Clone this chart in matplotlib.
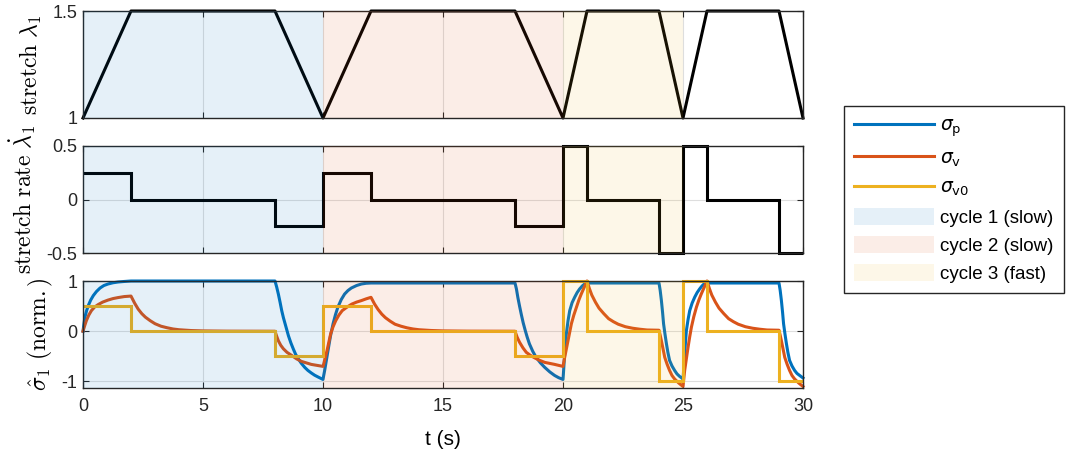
import numpy as np
import matplotlib
matplotlib.use("Agg")
import matplotlib.pyplot as plt
from matplotlib.patches import Patch
from matplotlib.lines import Line2D
from matplotlib.font_manager import FontProperties

plt.rcParams['font.family'] = ['Liberation Sans', 'DejaVu Sans']
plt.rcParams['axes.unicode_minus'] = False

# ── data ──────────────────────────────────────────────────────────────────────
t_stretch = [0, 2, 8, 10, 12, 18, 20, 21, 24, 25, 26, 29, 30]
stretch = [1, 1.5, 1.5, 1, 1.5, 1.5, 1, 1.5, 1.5, 1, 1.5, 1.5, 1]

t_edges = [0, 2, 8, 10, 12, 18, 20, 21, 24, 25, 26, 29, 30]
rate = [0.25, 0, -0.25, 0.25, 0, -0.25, 0.5, 0, -0.5, 0.5, 0, -0.5]
sig_v0 = [0.5, 0, -0.5, 0.5, 0, -0.5, 1, 0, -1, 1, 0, -1]

t_p = [0, 0.04, 0.08, 0.15, 0.22, 0.32, 0.43, 0.56, 0.71, 0.87, 1.04, 1.25, 1.46, 1.7, 2.0, 8.0,
       8.07, 8.14, 8.21, 8.28, 8.35, 8.42, 8.49, 8.56, 8.66, 8.76, 8.86, 8.97, 9.1, 9.24, 9.37,
       9.51, 9.65, 9.79, 10.0,
       10.03, 10.07, 10.14, 10.21, 10.31, 10.42, 10.52, 10.62, 10.76, 10.9, 11.04, 11.18, 11.4,
       11.6, 11.8, 12.0, 18.0,
       18.06, 18.12, 18.19, 18.26, 18.34, 18.43, 18.51, 18.6, 18.74, 18.88, 19.06, 19.24, 19.45,
       19.65, 19.82, 20.0,
       20.015, 20.03, 20.05, 20.07, 20.1, 20.14, 20.21, 20.28, 20.38, 20.49, 20.59, 20.69, 20.8,
       20.9, 21.0, 24.0,
       24.05, 24.1, 24.15, 24.19, 24.25, 24.31, 24.37, 24.44, 24.54, 24.65, 24.75, 24.86, 25.0,
       25.015, 25.03, 25.05, 25.07, 25.1, 25.14, 25.21, 25.28, 25.38, 25.49, 25.59, 25.69, 25.77,
       25.85, 26.0, 29.0,
       29.05, 29.1, 29.15, 29.19, 29.25, 29.31, 29.37, 29.44, 29.54, 29.65, 29.75, 29.86, 30.0]
sig_p = [0, 0.15, 0.28, 0.41, 0.51, 0.62, 0.71, 0.79, 0.86, 0.91, 0.94, 0.965, 0.98, 0.99, 1.0, 1.0,
         0.88, 0.74, 0.58, 0.41, 0.27, 0.15, 0.03, -0.09, -0.23, -0.35, -0.46, -0.55, -0.64, -0.72, -0.78,
         -0.83, -0.875, -0.91, -0.96,
         -0.88, -0.78, -0.58, -0.38, -0.10, 0.15, 0.33, 0.48, 0.63, 0.74, 0.81, 0.86, 0.91,
         0.94, 0.955, 0.96, 0.96,
         0.84, 0.67, 0.50, 0.34, 0.17, 0.01, -0.12, -0.25, -0.40, -0.52, -0.63, -0.72, -0.81,
         -0.88, -0.925, -0.96,
         -0.86, -0.75, -0.60, -0.45, -0.26, -0.05, 0.21, 0.41, 0.57, 0.68, 0.77, 0.84, 0.90,
         0.94, 0.96, 0.96,
         0.81, 0.61, 0.37, 0.15, -0.06, -0.25, -0.42, -0.58, -0.69, -0.78, -0.85, -0.90, -0.95,
         -0.86, -0.75, -0.60, -0.45, -0.24, 0.01, 0.23, 0.41, 0.56, 0.68, 0.77, 0.84, 0.89,
         0.93, 0.96, 0.96,
         0.81, 0.61, 0.37, 0.15, -0.06, -0.25, -0.42, -0.58, -0.69, -0.78, -0.84, -0.88, -0.93]

t_v = [0, 0.07, 0.14, 0.24, 0.35, 0.48, 0.63, 0.82, 1.04, 1.25, 1.46, 1.72, 2.0,
       2.15, 2.3, 2.45, 2.6, 2.8, 3.0, 3.25, 3.5, 3.75, 4.0, 4.5, 5.0, 6.0, 8.0,
       8.07, 8.14, 8.24, 8.35, 8.5, 8.69, 8.9, 9.1, 9.3, 9.51, 9.75, 10.0,
       10.04, 10.08, 10.17, 10.25, 10.32, 10.42, 10.53, 10.66, 10.8, 11.0, 11.2, 11.4, 11.6, 11.8, 12.0,
       12.15, 12.3, 12.45, 12.6, 12.8, 13.0, 13.25, 13.5, 13.75, 14.0, 14.5, 15.0, 16.0, 18.0,
       18.09, 18.19, 18.33, 18.47, 18.64, 18.82, 19.03, 19.24, 19.45, 19.65, 19.82, 20.0,
       20.03, 20.07, 20.14, 20.21, 20.28, 20.35, 20.45, 20.56, 20.66, 20.76, 20.88, 21.0,
       21.1, 21.2, 21.35, 21.5, 21.7, 21.9, 22.1, 22.3, 22.6, 22.9, 23.2, 23.5, 24.0,
       24.05, 24.1, 24.17, 24.24, 24.34, 24.44, 24.54, 24.65, 24.82, 25.0,
       25.03, 25.07, 25.14, 25.21, 25.28, 25.35, 25.45, 25.56, 25.66, 25.76, 25.88, 26.0,
       26.1, 26.2, 26.35, 26.5, 26.7, 26.9, 27.1, 27.3, 27.6, 27.9, 28.2, 28.5, 29.0,
       29.05, 29.1, 29.17, 29.24, 29.34, 29.44, 29.54, 29.65, 29.82, 30.0]
sig_v = [0, 0.11, 0.21, 0.32, 0.41, 0.48, 0.53, 0.58, 0.62, 0.65, 0.67, 0.69, 0.70,
         0.56, 0.44, 0.35, 0.28, 0.21, 0.15, 0.10, 0.07, 0.045, 0.03, 0.014, 0.007, 0.002, 0,
         -0.10, -0.19, -0.28, -0.35, -0.42, -0.48, -0.55, -0.60, -0.63, -0.66, -0.68, -0.70,
         -0.63, -0.55, -0.38, -0.20, -0.05, 0.09, 0.21, 0.32, 0.41, 0.48, 0.54, 0.58, 0.61, 0.645, 0.675,
         0.54, 0.43, 0.34, 0.27, 0.20, 0.14, 0.10, 0.068, 0.045, 0.03, 0.015, 0.007, 0.002, 0,
         -0.12, -0.22, -0.33, -0.42, -0.48, -0.53, -0.58, -0.62, -0.64, -0.66, -0.68, -0.70,
         -0.62, -0.52, -0.35, -0.19, -0.02, 0.15, 0.32, 0.48, 0.62, 0.74, 0.87, 1.0,
         0.85, 0.72, 0.58, 0.46, 0.35, 0.25, 0.19, 0.14, 0.09, 0.06, 0.04, 0.025, 0.02,
         -0.08, -0.19, -0.36, -0.52, -0.66, -0.78, -0.88, -0.95, -1.03, -1.1,
         -0.96, -0.78, -0.55, -0.32, -0.11, 0.08, 0.29, 0.48, 0.62, 0.74, 0.87, 1.0,
         0.85, 0.72, 0.58, 0.46, 0.35, 0.25, 0.19, 0.14, 0.09, 0.06, 0.04, 0.025, 0.02,
         -0.08, -0.19, -0.36, -0.52, -0.66, -0.78, -0.88, -0.95, -1.03, -1.1]

cycles = [(0, 10), (10, 20), (20, 25)]
cycle_labels = ['cycle 1 (slow)', 'cycle 2 (slow)', 'cycle 3 (fast)']

C_BLUE = '#0072BD'
C_ORANGE = '#D95319'
C_YELLOW = '#EDB120'
cycle_colors = [C_BLUE, C_ORANGE, C_YELLOW]
AX_COL = '#262626'
LW = 2.2

# ── figure ────────────────────────────────────────────────────────────────────
fig = plt.figure(figsize=(10.66, 4.54), dpi=100)
W, H = 1066, 454
left, right = 83 / W, 803 / W
ax_h = 107 / H
axes = [fig.add_axes([left, 1 - 118 / H, right - left, ax_h]),
        fig.add_axes([left, 1 - 253 / H, right - left, ax_h]),
        fig.add_axes([left, 1 - 388 / H, right - left, ax_h])]

for ax in axes:
    for (a, b), col in zip(cycles, cycle_colors):
        ax.axvspan(a, b, color=col, alpha=0.1, lw=0, zorder=3)
    ax.set_xlim(0, 30)
    ax.set_xticks(np.arange(0, 31, 5))
    ax.set_axisbelow(True)
    ax.grid(True, color='#dedede', lw=0.8)
    ax.tick_params(direction='in', length=4.5, width=0.8, colors=AX_COL,
                   top=True, right=True, labelsize=13, pad=4)
    ax.tick_params(axis='x', pad=7)
    for s in ax.spines.values():
        s.set_color(AX_COL)
        s.set_linewidth(1.0)

ax1, ax2, ax3 = axes

ax1.plot(t_stretch, stretch, color='black', lw=LW, clip_on=False, zorder=2)
ax1.set_ylim(1, 1.5)
ax1.set_yticks([1, 1.5])
ax1.set_yticklabels(['1', '1.5'])
ax1.tick_params(labelbottom=False)
ax1.set_ylabel(r'$\mathrm{stretch}\ \lambda_1$', fontsize=17, math_fontfamily='cm', labelpad=6)

ax2.stairs(rate, t_edges, baseline=None, color='black', lw=LW, clip_on=False, zorder=2)
ax2.set_ylim(-0.5, 0.5)
ax2.set_yticks([-0.5, 0, 0.5])
ax2.set_yticklabels(['-0.5', '0', '0.5'])
ax2.tick_params(labelbottom=False)
ax2.set_ylabel(r'$\mathrm{stretch\ rate}\ \dot{\lambda}_1$', fontsize=17, math_fontfamily='cm', labelpad=6)

ax3.plot(t_p, sig_p, color=C_BLUE, lw=LW, clip_on=False, zorder=2)
ax3.plot(t_v, sig_v, color=C_ORANGE, lw=LW, clip_on=False, zorder=2)
ax3.stairs(sig_v0, t_edges, baseline=None, color=C_YELLOW, lw=LW, clip_on=False, zorder=2)
ax3.set_ylim(-1.13, 1.0)
ax3.set_yticks([-1, 0, 1])
ax3.set_yticklabels(['-1', '0', '1'])
ax3.set_ylabel(r'$\hat{\sigma}_1\ \mathrm{(norm.)}$', fontsize=17, math_fontfamily='cm', labelpad=5)
ax3.set_xticklabels([str(v) for v in range(0, 31, 5)])
ax3.set_xlabel('t (s)', fontsize=15, labelpad=11)

handles = [Line2D([], [], color=C_BLUE, lw=LW),
           Line2D([], [], color=C_ORANGE, lw=LW),
           Line2D([], [], color=C_YELLOW, lw=LW)]
handles += [Patch(facecolor=c, alpha=0.1, edgecolor='none') for c in cycle_colors]
labels = [r'$\sigma_{\rm p}$', r'$\sigma_{\rm v}$', r'$\sigma_{\rm v0}$'] + cycle_labels

prop = FontProperties(family='Liberation Sans', size=13.5, math_fontfamily='dejavusans')
leg = fig.legend(handles, labels, loc='upper left', bbox_to_anchor=(844 / W, 1 - 106 / H),
                 borderaxespad=0, prop=prop, frameon=True, fancybox=False,
                 edgecolor=AX_COL, framealpha=1, handlelength=4.25, handleheight=1.0,
                 handletextpad=0.32, labelspacing=0.5, borderpad=0.55)
leg.get_frame().set_linewidth(1.0)

fig.savefig('out.png', dpi=100)
